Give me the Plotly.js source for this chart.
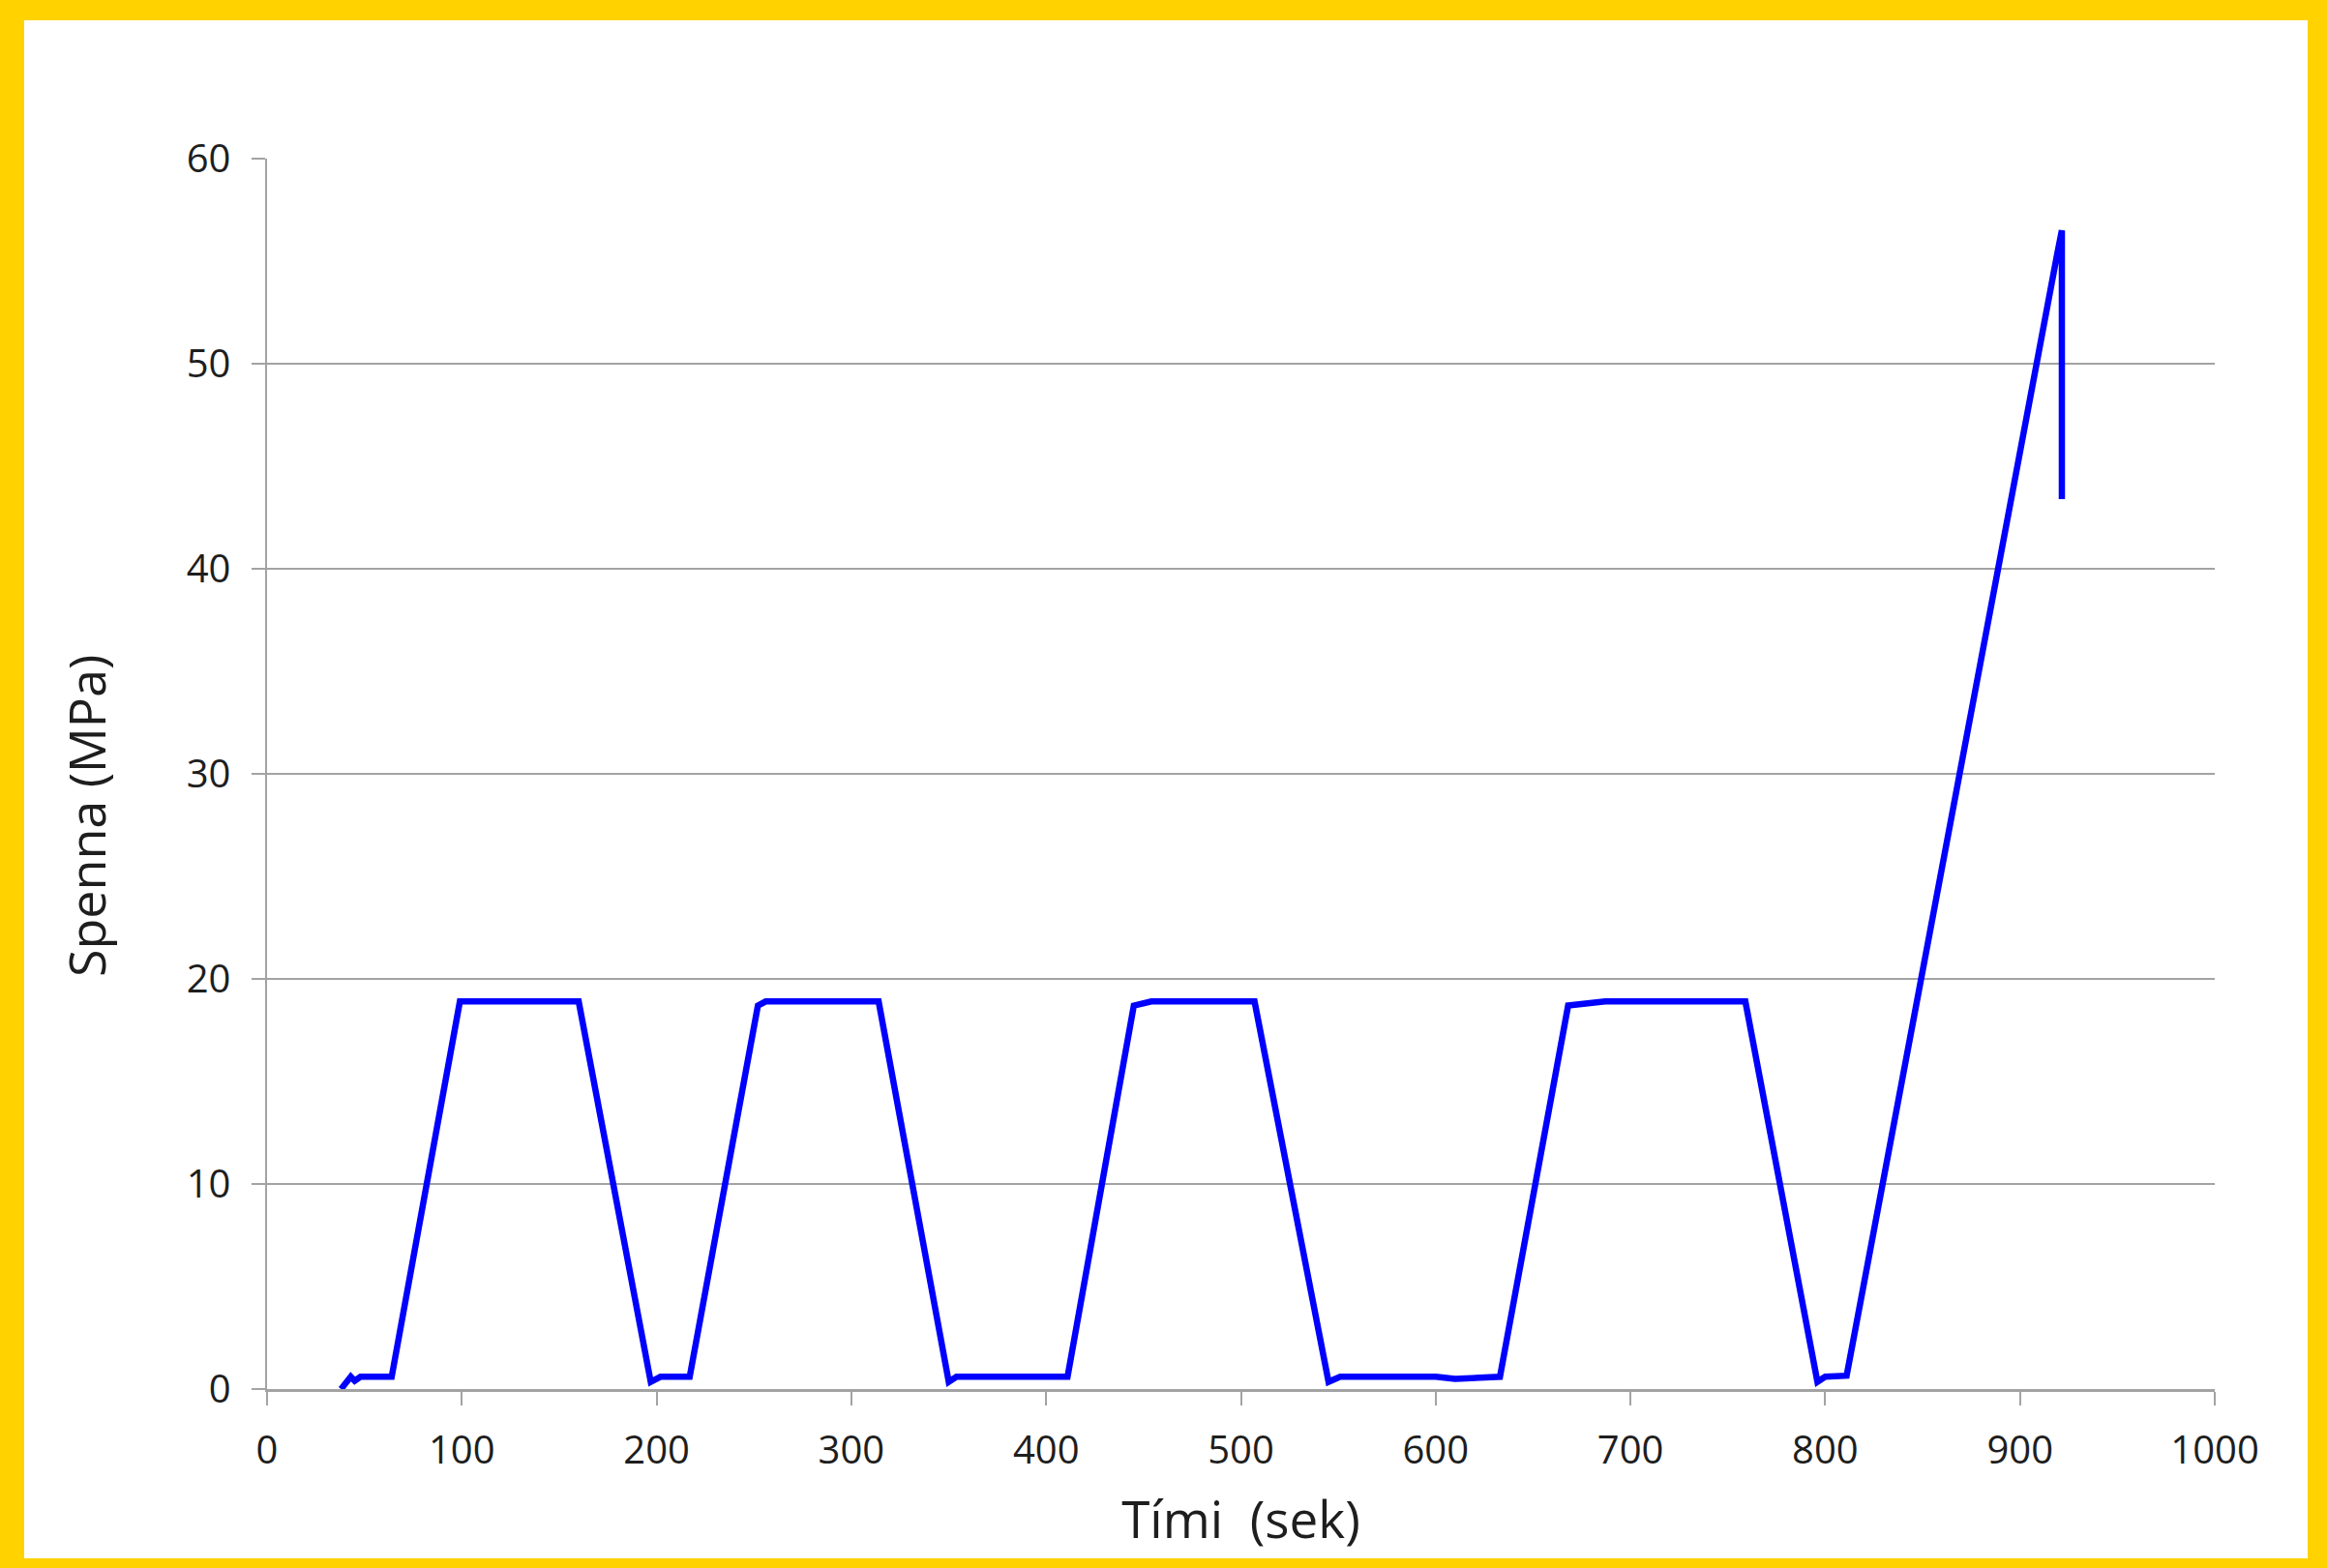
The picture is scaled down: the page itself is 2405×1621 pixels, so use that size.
<!DOCTYPE html>
<html>
<head>
<meta charset="utf-8">
<script src="https://cdn.plot.ly/plotly-3.0.1.min.js"></script>
<style>
  html, body { margin: 0; padding: 0; background: #FFD200; }
  #chart { width: 2405px; height: 1621px; }
</style>
</head>
<body>
<div id="chart"></div>
<script>
// Time (s) and stress (MPa)
const timeSec = [38, 41, 43, 45, 48, 64, 99, 160, 197, 202, 217, 252, 256, 314, 350, 354, 411, 445, 454, 507, 545, 551, 600, 610, 633, 668, 687, 759, 796, 800, 811, 919, 921.5, 921.5];
const stressMPa = [0, 0.3, 0.6, 0.4, 0.6, 0.6, 18.9, 18.9, 0.35, 0.6, 0.6, 18.7, 18.9, 18.9, 0.35, 0.6, 0.6, 18.7, 18.9, 18.9, 0.35, 0.6, 0.6, 0.5, 0.6, 18.7, 18.9, 18.9, 0.35, 0.6, 0.65, 55.3, 56.5, 43.4];

const xTicks = [0, 100, 200, 300, 400, 500, 600, 700, 800, 900, 1000];
const yTicks = [0, 10, 20, 30, 40, 50, 60];

const xTitle = "Tími\u00A0 (sek)";
const yTitle = "Spenna (MPa)";

const W = 2405, H = 1621;
const mL = 276, mR = W - 2289, mT = 164, mB = H - 1436;
const pw = W - mL - mR, ph = H - mT - mB;

const grey = "#a3a3a3";
const font = "Open Sans, Noto Sans, sans-serif";
const ink = "#1e1e1e";

const trace = {
  x: timeSec,
  y: stressMPa,
  type: "scatter",
  mode: "lines",
  line: { color: "#0000FF", width: 6.5 },
  hoverinfo: "skip"
};

const layout = {
  width: W,
  height: H,
  margin: { l: mL, r: mR, t: mT, b: mB },
  paper_bgcolor: "#FFD200",
  plot_bgcolor: "rgba(0,0,0,0)",
  showlegend: false,
  font: { family: font, color: ink },
  shapes: [{
    type: "rect", xref: "paper", yref: "paper", layer: "below",
    x0: (25 - mL) / pw, x1: (2385 - mL) / pw,
    y0: (1436 - 1611) / ph, y1: (1436 - 21) / ph,
    fillcolor: "#ffffff", line: { width: 0 }
  }],
  annotations: [{
    text: yTitle,
    xref: "paper", yref: "paper",
    x: (88 - mL) / pw, y: (1436 - 844) / ph,
    xanchor: "center", yanchor: "middle",
    textangle: -90,
    showarrow: false,
    font: { family: font, size: 52, color: ink }
  }],
  xaxis: {
    range: [0, 1000],
    tickvals: xTicks,
    ticktext: xTicks.map(String),
    showgrid: false,
    zeroline: false,
    showline: true, linecolor: grey, linewidth: 2.5,
    ticks: "outside", ticklen: 14, tickwidth: 2, tickcolor: grey,
    ticklabelstandoff: 12,
    tickfont: { family: font, size: 40, color: ink },
    title: { text: xTitle, font: { family: font, size: 53, color: ink }, standoff: 30 },
    fixedrange: true
  },
  yaxis: {
    range: [0, 60],
    tickvals: yTicks,
    ticktext: yTicks.map(String),
    showgrid: true, gridcolor: grey, gridwidth: 2.5,
    zeroline: false,
    showline: true, linecolor: grey, linewidth: 2.5,
    ticks: "outside", ticklen: 14, tickwidth: 2, tickcolor: grey,
    ticklabelstandoff: 13,
    tickfont: { family: font, size: 40, color: ink },
    fixedrange: true
  },
  hovermode: false
};

Plotly.newPlot("chart", [trace], layout, { displayModeBar: false, staticPlot: true });
</script>
</body>
</html>
